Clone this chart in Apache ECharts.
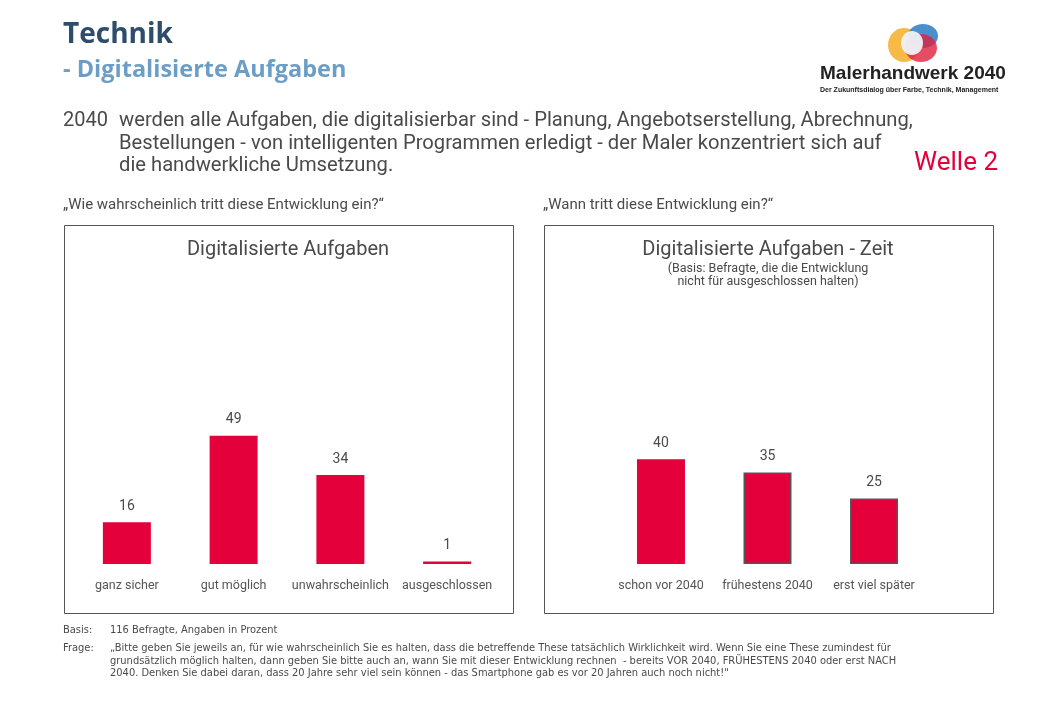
<!DOCTYPE html>
<html>
<head>
<meta charset="utf-8">
<script src="https://cdn.jsdelivr.net/npm/echarts@6/dist/echarts.min.js"></script>
<style>
html,body{margin:0;padding:0;background:#fff;}
#c{width:1040px;height:720px;}
</style>
</head>
<body>
<div id="c"></div>
<script>
// ---- data ----
const leftCategories = ['ganz sicher', 'gut möglich', 'unwahrscheinlich', 'ausgeschlossen'];
const leftValues = [16, 49, 34, 1];
const rightCategories = ['schon vor 2040', 'frühestens 2040', 'erst viel später'];
const rightValues = [40, 35, 25];
const bodyLines = [
  'werden alle Aufgaben, die digitalisierbar sind - Planung, Angebotserstellung, Abrechnung,',
  'Bestellungen - von intelligenten Programmen erledigt - der Maler konzentriert sich auf',
  'die handwerkliche Umsetzung.'
];
const footerFrage = [
  '„Bitte geben Sie jeweils an, für wie wahrscheinlich Sie es halten, dass die betreffende These tatsächlich Wirklichkeit wird. Wenn Sie eine These zumindest für',
  'grundsätzlich möglich halten, dann geben Sie bitte auch an, wann Sie mit dieser Entwicklung rechnen  - bereits VOR 2040, FRÜHESTENS 2040 oder erst NACH',
  '2040. Denken Sie dabei daran, dass 20 Jahre sehr viel sein können - das Smartphone gab es vor 20 Jahren auch noch nicht!"'
];

const FONT = "Roboto, 'Noto Sans', sans-serif";
const NARROW = "'Liberation Sans Narrow', 'DejaVu Sans Condensed', Roboto, sans-serif";
const RED = '#e4003b';
const GREY = '#4a4a4a';

const chart = echarts.init(document.getElementById('c'), null, {renderer: 'canvas'});

function txt(x, y, text, size, color, opts) {
  opts = opts || {};
  return {
    type: 'text', x: x, y: y, silent: true,
    style: {
      text: text, fill: color,
      font: (opts.weight || 'normal') + ' ' + size + 'px ' + (opts.family || FONT),
      textAlign: opts.align || 'left', textVerticalAlign: 'middle'
    }
  };
}

const graphics = [
  txt(63, 35, 'Technik', 28, '#2e4d6a', {weight: 'bold', family: "'Open Sans', Roboto, sans-serif"}),
  txt(63, 70, '- Digitalisierte Aufgaben', 23.5, '#6b9ec7', {weight: 'bold', family: "'Open Sans', Roboto, sans-serif"}),
  // logo
  {type: 'ellipse', shape: {cx: 904, cy: 45, rx: 16, ry: 17}, style: {fill: '#f6b233', opacity: 0.9}, silent: true},
  {type: 'ellipse', shape: {cx: 923, cy: 36, rx: 15, ry: 12}, style: {fill: '#2a7cc7', opacity: 0.85}, silent: true},
  {type: 'ellipse', shape: {cx: 921, cy: 48, rx: 16, ry: 14}, style: {fill: '#e0203f', opacity: 0.8}, silent: true},
  {type: 'ellipse', shape: {cx: 912, cy: 43, rx: 11, ry: 12}, style: {fill: '#eef2f7', opacity: 0.95}, silent: true},
  txt(820, 74, 'Malerhandwerk 2040', 19, '#222', {weight: 'bold', family: "'Liberation Sans', Arial, sans-serif"}),
  txt(820, 90, 'Der Zukunftsdialog über Farbe, Technik, Management', 7, '#222', {weight: 'bold', family: "'Liberation Sans', Arial, sans-serif"}),
  // body
  txt(63, 121, '2040', 20, GREY),
  txt(119, 121, bodyLines[0], 20.2, GREY),
  txt(119, 144, bodyLines[1], 20.2, GREY),
  txt(119, 166, bodyLines[2], 20.2, GREY),
  txt(998, 163, 'Welle 2', 26, RED, {align: 'right'}),
  // questions
  txt(63, 205, '„Wie wahrscheinlich tritt diese Entwicklung ein?“', 15, GREY),
  txt(543, 205, '„Wann tritt diese Entwicklung ein?“', 15, GREY),
  // boxes
  {type: 'rect', shape: {x: 64.5, y: 225.5, width: 449, height: 388}, style: {fill: 'none', stroke: '#555', lineWidth: 1}, silent: true},
  {type: 'rect', shape: {x: 544.5, y: 225.5, width: 449, height: 388}, style: {fill: 'none', stroke: '#555', lineWidth: 1}, silent: true},
  txt(288, 250, 'Digitalisierte Aufgaben', 20, GREY, {align: 'center'}),
  txt(768, 250, 'Digitalisierte Aufgaben - Zeit', 20, GREY, {align: 'center'}),
  txt(768, 269, '(Basis: Befragte, die die Entwicklung', 12.5, GREY, {align: 'center'}),
  txt(768, 282, 'nicht für ausgeschlossen halten)', 12.5, GREY, {align: 'center'}),
  // footer
  txt(63, 630, 'Basis:', 11, GREY, {family: NARROW}),
  txt(110, 630, '116 Befragte, Angaben in Prozent', 11, GREY, {family: NARROW}),
  txt(63, 648, 'Frage:', 11, GREY, {family: NARROW}),
  txt(110, 648, footerFrage[0], 11, GREY, {family: NARROW}),
  txt(110, 661, footerFrage[1], 11, GREY, {family: NARROW}),
  txt(110, 673, footerFrage[2], 11, GREY, {family: NARROW})
];

function xAx(idx, cats) {
  return {
    type: 'category', gridIndex: idx, data: cats,
    axisLine: {show: false}, axisTick: {show: false},
    axisLabel: {color: '#555', fontSize: 12.5, fontFamily: FONT, margin: 15, interval: 0}
  };
}
function yAx(idx) {
  return {type: 'value', gridIndex: idx, min: 0, max: 60, show: false, splitLine: {show: false}};
}
const labelCfg = {show: true, position: 'top', distance: 9, color: GREY, fontSize: 14, fontFamily: FONT};

chart.setOption({
  animation: false,
  grid: [
    {left: 73.5, width: 427, top: 407, height: 157},
    {left: 607.7, width: 319.6, top: 407, height: 157}
  ],
  xAxis: [xAx(0, leftCategories), xAx(1, rightCategories)],
  yAxis: [yAx(0), yAx(1)],
  series: [
    {type: 'bar', xAxisIndex: 0, yAxisIndex: 0, data: leftValues, barWidth: 48,
     itemStyle: {color: RED}, label: labelCfg},
    {type: 'bar', xAxisIndex: 1, yAxisIndex: 1, barWidth: 48,
     data: rightValues.map((v, i) => ({value: v, itemStyle: i > 0 ? {borderColor: '#555', borderWidth: 1.5} : {}})),
     itemStyle: {color: RED}, label: labelCfg}
  ],
  graphic: graphics
});
</script>
</body>
</html>
